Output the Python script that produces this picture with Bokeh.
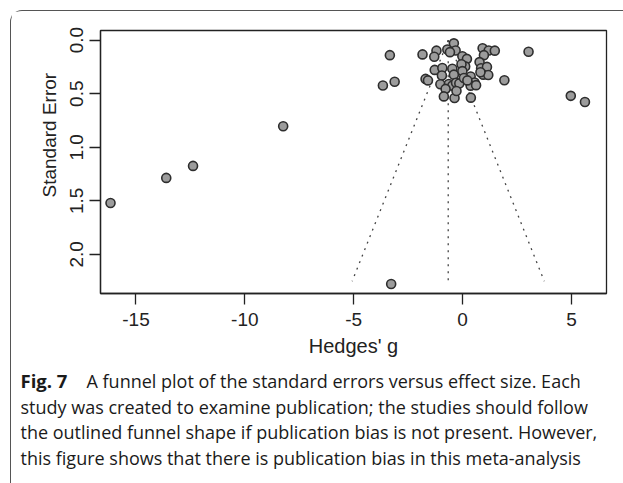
from bokeh.plotting import figure
from bokeh.layouts import column
from bokeh.models import Range1d, FixedTicker, ColumnDataSource, Title
from bokeh.core.properties import value
from bokeh.embed import file_html
from bokeh.resources import INLINE

# ---------------- data ----------------
hedges_g = [-16.17, -13.61, -12.38, -8.24, -3.28, -3.34, -3.66, -3.12, 3.03, 4.97, 5.62,
            1.92, -1.84, -1.70, -1.59,
            -1.20, -1.30, -0.70, -0.40, -0.32, -0.58, -0.01, 0.20, 0.12, -0.05,
            0.92, 1.20, 1.48, 0.98, 0.78, 0.85, 1.12, 0.95, 1.18, 0.82,
            -1.28, -0.93, -0.47, -0.40, -0.01, -0.95, -1.02, -0.63, -0.47, -0.30,
            -0.15, -0.78, 0.37, 0.55, 0.37, 0.06, 0.62, -0.86, -0.37, -0.28, 0.38, 0.22]
std_error = [1.52, 1.286, 1.174, 0.804, 2.277, 0.14, 0.424, 0.388, 0.108, 0.52, 0.578,
             0.374, 0.133, 0.362, 0.376,
             0.098, 0.155, 0.087, 0.030, 0.096, 0.112, 0.150, 0.175, 0.245, 0.225,
             0.075, 0.096, 0.098, 0.140, 0.205, 0.262, 0.250, 0.322, 0.325, 0.300,
             0.278, 0.260, 0.267, 0.322, 0.289, 0.330, 0.412, 0.410, 0.425, 0.398,
             0.405, 0.455, 0.340, 0.395, 0.425, 0.354, 0.420, 0.525, 0.540, 0.475, 0.537, 0.376]
pooled_estimate = -0.66
funnel_se = [0.0, 2.25]
x_ticks = [-15, -10, -5, 0, 5]
x_tick_labels = ["-15", "-10", "-5", "0", "5"]
y_ticks = [0.0, 0.5, 1.0, 1.5, 2.0]
y_tick_labels = ["0.0", "0.5", "1.0", "1.5", "2.0"]
x_title = "Hedges' g"
y_title = "Standard Error"
caption_bold = "Fig. 7"
caption_lines = [
    "A funnel plot of the standard errors versus effect size. Each",
    "study was created to examine publication; the studies should follow",
    "the outlined funnel shape if publication bias is not present. However,",
    "this figure shows that there is publication bias in this meta-analysis",
]

AX_FONT = "Liberation Sans"
CAP_FONT = "Open Sans"

# ---------------- plot ----------------
p = figure(width=612, height=350, output_backend="svg", toolbar_location=None,
           x_range=Range1d(-16.63, 6.61), y_range=Range1d(2.365, -0.09),
           min_border_left=89, min_border_right=17, min_border_top=19, min_border_bottom=68)
p.grid.visible = False
p.outline_line_color = "#222222"
p.outline_line_width = 1.3
p.background_fill_color = "white"
p.border_fill_color = "white"

z = 1.96
dash = dict(line_color="#444444", line_width=1.3, line_dash="2 5")
p.line([pooled_estimate, pooled_estimate], funnel_se, **dash)
p.line([pooled_estimate, pooled_estimate - z * funnel_se[1]], funnel_se, **dash)
p.line([pooled_estimate, pooled_estimate + z * funnel_se[1]], funnel_se, **dash)

src = ColumnDataSource(dict(x=hedges_g, y=std_error))
p.scatter("x", "y", source=src, size=9, fill_color="#9c9c9c", line_color="#2e2e2e", line_width=1.6)

for ax, ticks, labels in ((p.xaxis[0], x_ticks, x_tick_labels), (p.yaxis[0], y_ticks, y_tick_labels)):
    ax.ticker = FixedTicker(ticks=ticks)
    ax.major_label_overrides = {t: l for t, l in zip(ticks, labels)}
    ax.minor_tick_line_color = None
    ax.major_tick_in = 0
    ax.major_tick_out = 11
    ax.major_tick_line_color = "#222222"
    ax.major_tick_line_width = 1.3
    ax.axis_line_color = "#222222"
    ax.axis_line_width = 1.3
    ax.major_label_text_font = AX_FONT
    ax.major_label_text_font_size = "19px"
    ax.major_label_text_color = "#222222"
    ax.axis_label_text_font = AX_FONT
    ax.axis_label_text_font_size = "20px"
    ax.axis_label_text_font_style = "normal"
    ax.axis_label_text_color = "#222222"

p.xaxis.axis_label = x_title
p.xaxis.major_label_standoff = 8
p.xaxis.axis_label_standoff = 6
p.yaxis.major_label_orientation = "vertical"
p.yaxis.major_label_standoff = 6

# y title: placed like the reference (above the middle of the frame)
p.add_layout(Title(text=y_title, align="left", offset=96, standoff=15,
                   text_font=AX_FONT, text_font_size="19px", text_font_style="normal",
                   text_color="#222222"), "left")

# ---------------- caption ----------------
cap = figure(width=612, height=122, output_backend="svg", toolbar_location=None,
             x_range=Range1d(0, 612), y_range=Range1d(122, 0),
             x_axis_location=None, y_axis_location=None,
             min_border=0, min_border_left=0, min_border_right=0, min_border_top=0, min_border_bottom=0)
cap.grid.visible = False
cap.outline_line_color = None
for fig in (p, cap):
    try:
        fig.frame_align = False
    except Exception:
        pass

line_y = [19, 45, 70.5, 96]
cap.text(x=[9], y=[line_y[0]], text=[caption_bold], text_font=value(CAP_FONT), text_font_style="bold",
         text_font_size="18.5px", text_baseline="middle", text_color="#1a1a1a")
cap.text(x=[75, 9, 9, 9], y=line_y, text=caption_lines, text_font=value(CAP_FONT),
         text_font_size="18px", text_baseline="middle", text_color="#1a1a1a")

layout = column(p, cap, spacing=0,
                styles={"border-left": "1px solid #555555", "border-top": "1px solid #555555",
                        "border-top-left-radius": "12px", "margin-left": "10px", "margin-top": "10px"})

open("out.html", "w").write(file_html(layout, INLINE))
